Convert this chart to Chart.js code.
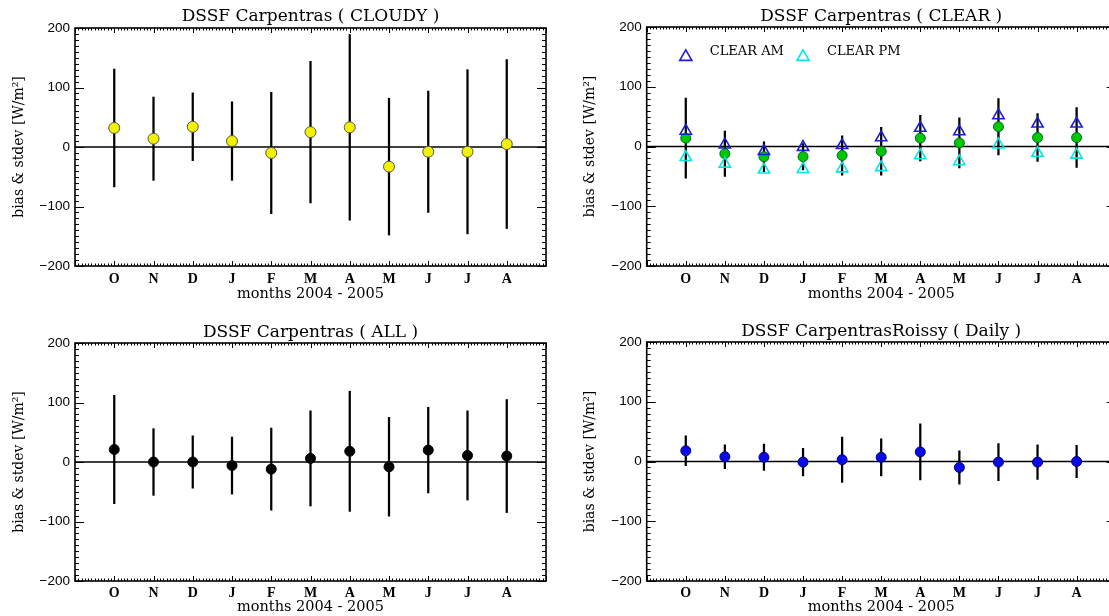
<!DOCTYPE html>
<html>
<head>
<meta charset="utf-8">
<script src="https://cdn.jsdelivr.net/npm/chart.js@4/dist/chart.umd.min.js"></script>
<style>
  html, body { margin: 0; padding: 0; background: #fff; overflow: hidden; width: 1109px; height: 616px; }
  canvas { position: absolute; }
</style>
</head>
<body>
<canvas id="cloudy"></canvas>
<canvas id="clear"></canvas>
<canvas id="all"></canvas>
<canvas id="daily"></canvas>
<script>
// months Oct 2004 .. Aug 2005
const months = ['O', 'N', 'D', 'J', 'F', 'M', 'A', 'M', 'J', 'J', 'A']
const yTicks = [-200, -100, 0, 100, 200]

const cloudyBias  = [32, 14, 34, 10, -10, 25, 33, -33, -8, -8, 5]
const cloudyStdev = [99, 70, 57, 66, 102, 119, 156, 115, 102, 138, 142]

const clearBias  = [14, -12, -17, -17, -15, -8, 14, 6, 33, 15, 15]
const clearStdev = [67, 38, 25, 22, 33, 40, 38, 42, 47, 40, 50]
const clearAM    = [26, 3, -8, -1, 2, 15, 31, 25, 52, 38, 38]
const clearPM    = [-18, -29, -39, -38, -37, -35, -15, -25, 3, -11, -14]

const allBias  = [21, 0, 0, -6, -12, 6, 18, -8, 20, 11, 10]
const allStdev = [91, 56, 44, 48, 69, 80, 101, 83, 72, 75, 95]

const dailyBias  = [18, 8, 7, -1, 3, 7, 16, -10, -1, -1, 0]
const dailyStdev = [25, 20, 22, 23, 38, 31, 47, 28, 31, 29, 27]

const SERIF = '"DejaVu Serif", serif'

const pts = vals => vals.map((v, i) => ({ x: i, y: v }))
const errs = (bias, sd) => bias.map((b, i) => ({ x: i, y: [b - sd[i], b + sd[i]] }))

// IDL style box: inward ticks on all four sides, zero line, title on top
const idlFrame = {
    id: 'idlFrame',
    beforeDatasetsDraw(chart, args, opts) {
        const { ctx, chartArea: a, scales: { x, y } } = chart
        ctx.save()
        ctx.strokeStyle = '#000'
        ctx.lineWidth = 1
        ctx.beginPath()
        for (let v = yTicks[0]; v <= yTicks[yTicks.length - 1]; v += 10) {
            const py = Math.round(y.getPixelForValue(v)) + 0.5
            const len = v % 100 === 0 ? 9 : 4
            ctx.moveTo(a.left, py); ctx.lineTo(a.left + len, py)
            ctx.moveTo(a.right, py); ctx.lineTo(a.right - len, py)
        }
        for (let k = 0; k <= 144; k++) {
            const px = Math.round(x.getPixelForValue(-1 + k / 12)) + 0.5
            const len = k % 12 === 0 ? 5 : 2.5
            ctx.moveTo(px, a.bottom); ctx.lineTo(px, a.bottom - len)
            ctx.moveTo(px, a.top); ctx.lineTo(px, a.top + len)
        }
        ctx.stroke()
        ctx.lineWidth = 1.6
        ctx.strokeRect(a.left, a.top, a.right - a.left, a.bottom - a.top)
        const y0 = y.getPixelForValue(0)
        ctx.beginPath()
        ctx.moveTo(a.left, y0); ctx.lineTo(a.right, y0)
        ctx.stroke()
        ctx.restore()
    },
    afterDraw(chart, args, opts) {
        const { ctx, chartArea: a, scales: { x, y } } = chart
        ctx.save()
        ctx.fillStyle = '#000'
        ctx.font = '17px ' + SERIF
        ctx.textAlign = 'center'
        ctx.textBaseline = 'middle'
        ctx.fillText(opts.title, (a.left + a.right) / 2, a.top - opts.titleGap)
        ;(opts.legend || []).forEach(item => {
            const px = x.getPixelForValue(item.x)
            const py = y.getPixelForValue(item.y)
            ctx.strokeStyle = item.color
            ctx.fillStyle = 'rgba(0,0,0,0)'
            ctx.lineWidth = 1.6
            Chart.helpers.drawPoint(ctx, { pointStyle: 'triangle', radius: 7, rotation: 0, borderWidth: 1.6 }, px, py)
            ctx.fillStyle = '#000'
            ctx.font = '13px ' + SERIF
            ctx.textAlign = 'left'
            ctx.fillText(item.label, px + 24, py - 5)
        })
        ctx.restore()
    }
}

function makePanel(id, box, title, datasets, legend) {
    const el = document.getElementById(id)
    el.width = box.w
    el.height = box.h
    el.style.left = box.left + 'px'
    el.style.top = box.top + 'px'
    el.style.width = box.w + 'px'
    el.style.height = box.h + 'px'
    return new Chart(el, {
        type: 'scatter',
        data: { datasets },
        plugins: [idlFrame],
        options: {
            responsive: false,
            animation: false,
            devicePixelRatio: 1,
            events: [],
            layout: { padding: { top: box.areaTop, right: box.padRight, left: 0, bottom: 0 } },
            plugins: {
                legend: { display: false },
                tooltip: { enabled: false },
                idlFrame: { title, titleGap: box.titleGap, legend }
            },
            scales: {
                x: {
                    type: 'linear',
                    min: -1,
                    max: 11,
                    offset: false,
                    afterFit: s => { s.height = box.xAxisH },
                    grid: { display: false, drawTicks: false },
                    border: { display: false },
                    ticks: {
                        stepSize: 1,
                        padding: box.xTickPad,
                        color: '#000',
                        font: { family: '"Liberation Serif", serif', size: 14, weight: 'bold' },
                        callback: v => months[v] || ''
                    },
                    title: {
                        display: true,
                        text: 'months 2004 - 2005',
                        color: '#000',
                        font: { family: SERIF, size: 14.5 },
                        padding: { top: 0, bottom: box.xTitlePad }
                    }
                },
                y: {
                    min: yTicks[0],
                    max: yTicks[yTicks.length - 1],
                    afterFit: s => { s.width = box.yAxisW },
                    afterBuildTicks: s => { s.ticks = yTicks.map(v => ({ value: v })) },
                    grid: { display: false, drawTicks: false },
                    border: { display: false },
                    ticks: {
                        padding: 5,
                        color: '#000',
                        font: { family: '"Liberation Sans", sans-serif', size: 13.5 },
                        callback: v => v < 0 ? '\u2212' + Math.abs(v) : String(v)
                    },
                    title: {
                        display: true,
                        text: 'bias & stdev [W/m\u00b2]',
                        color: '#000',
                        font: { family: SERIF, size: 14 },
                        padding: { top: box.yTitlePad, bottom: 0 }
                    }
                }
            }
        }
    })
}

const errBar = (bias, sd, order) => ({
    type: 'bar',
    data: errs(bias, sd),
    backgroundColor: '#000',
    borderWidth: 0,
    barThickness: 1.6,
    order
})

const dots = (vals, fill, border, radius, order) => ({
    type: 'scatter',
    data: pts(vals),
    pointStyle: 'circle',
    pointRadius: radius,
    backgroundColor: fill,
    borderColor: border,
    borderWidth: 1,
    order
})

const tris = (vals, color, order) => ({
    type: 'scatter',
    data: pts(vals),
    pointStyle: 'triangle',
    pointRadius: 6.5,
    backgroundColor: 'rgba(0,0,0,0)',
    borderColor: color,
    borderWidth: 1.6,
    order
})

const leftTop  = { left: 0,   top: 0,   w: 560, h: 305, areaTop: 28, padRight: 14,   yAxisW: 75,   xAxisH: 39, xTickPad: 5, xTitlePad: 2, yTitlePad: 11, titleGap: 11 }
const rightTop = { left: 555, top: 0,   w: 580, h: 305, areaTop: 27, padRight: 19.3, yAxisW: 91.7, xAxisH: 39, xTickPad: 5, xTitlePad: 2, yTitlePad: 27, titleGap: 10.5 }
const leftBot  = { left: 0,   top: 310, w: 560, h: 306, areaTop: 33, padRight: 14,   yAxisW: 75,   xAxisH: 35, xTickPad: 4, xTitlePad: 0, yTitlePad: 11, titleGap: 10.5 }
const rightBot = { left: 555, top: 310, w: 580, h: 306, areaTop: 32, padRight: 19.3, yAxisW: 91.7, xAxisH: 35, xTickPad: 4, xTitlePad: 0, yTitlePad: 27, titleGap: 10 }

makePanel('cloudy', leftTop, 'DSSF Carpentras ( CLOUDY )', [
    dots(cloudyBias, '#f2f200', '#555', 5.5, 0),
    errBar(cloudyBias, cloudyStdev, 1)
])

makePanel('clear', rightTop, 'DSSF Carpentras ( CLEAR )', [
    tris(clearAM, '#1c1cd8', 0),
    tris(clearPM, '#00e6e6', 0),
    dots(clearBias, '#00c800', '#063', 5, 1),
    errBar(clearBias, clearStdev, 2)
], [
    { label: 'CLEAR AM', color: '#1c1cd8', x: 0, y: 150 },
    { label: 'CLEAR PM', color: '#00e6e6', x: 3, y: 150 }
])

makePanel('all', leftBot, 'DSSF Carpentras ( ALL )', [
    dots(allBias, '#000', '#000', 5, 0),
    errBar(allBias, allStdev, 1)
])

makePanel('daily', rightBot, 'DSSF CarpentrasRoissy ( Daily )', [
    dots(dailyBias, '#0a0ae6', '#00007a', 5, 0),
    errBar(dailyBias, dailyStdev, 1)
])
</script>
</body>
</html>
